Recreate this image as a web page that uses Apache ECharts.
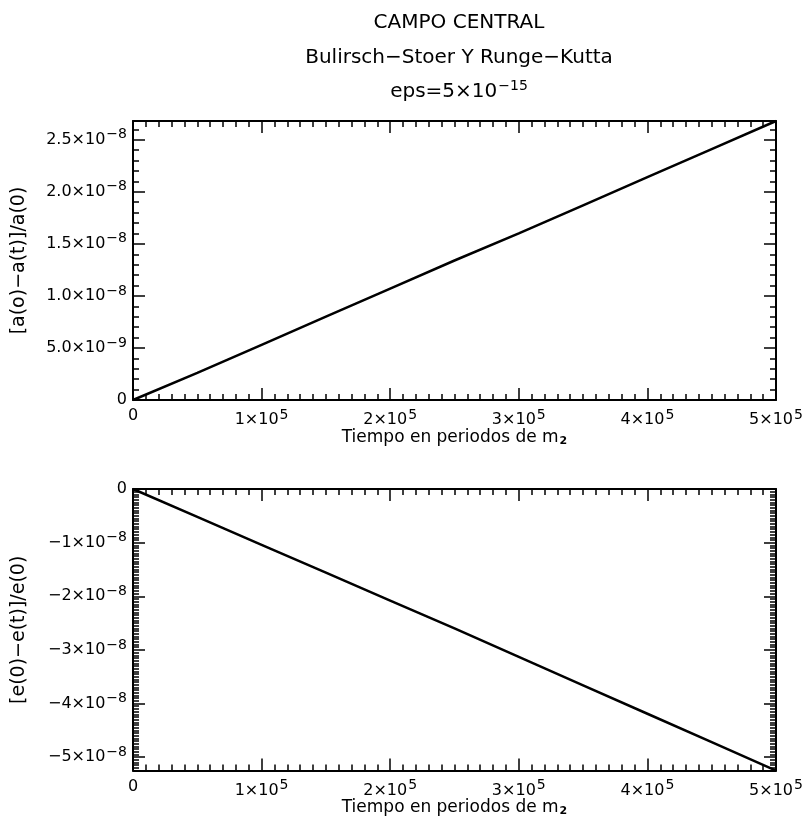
<!DOCTYPE html>
<html>
<head>
<meta charset="utf-8">
<script src="https://cdn.jsdelivr.net/npm/echarts@6/dist/echarts.min.js"></script>
<style>
  html, body { margin: 0; padding: 0; background: #fff; }
  #main { width: 806px; height: 818px; }
</style>
</head>
<body>
<div id="main"></div>
<script>
// time in periods of m2
var tiempo = [0, 50000, 100000, 150000, 200000, 250000, 300000, 350000, 400000, 450000, 500000];
// relative error in semi-major axis
var errA = [0, 2.6e-9, 5.3e-9, 8.0e-9, 1.07e-8, 1.34e-8, 1.60e-8, 1.87e-8, 2.14e-8, 2.41e-8, 2.68e-8];
// relative error in eccentricity
var errE = [0, -5.2e-9, -1.04e-8, -1.56e-8, -2.08e-8, -2.60e-8, -3.13e-8, -3.66e-8, -4.19e-8, -4.72e-8, -5.25e-8];

var xTicks = { 0: '0', 100000: '1', 200000: '2', 300000: '3', 400000: '4', 500000: '5' };
var aTicks = ['0', '5.0|9', '1.0|8', '1.5|8', '2.0|8', '2.5|8'];
var eTicks = ['0', '−1|8', '−2|8', '−3|8', '−4|8', '−5|8'];
var eMajor = [0, -1e-8, -2e-8, -3e-8, -4e-8, -5e-8];

var myChart = echarts.init(document.getElementById('main'));

var font = 'DejaVu Sans';
var rich = {
    b: { fontFamily: font, fontSize: 16, color: '#000' },
    s: { fontFamily: font, fontSize: 14, color: '#000', verticalAlign: 'bottom', padding: [0, 0, 10, 1] }
};
var nameRich = {
    b: { fontFamily: font, fontSize: 17, color: '#000' },
    sub: { fontFamily: font, fontSize: 11, fontWeight: 'bold', color: '#000', padding: [7, 0, 0, 1] }
};

function sciLabel(str) {
    if (str.indexOf('|') < 0) return '{b|' + str + '}';
    var p = str.split('|');
    return '{b|' + p[0] + '×10}{s|−' + p[1] + '}';
}

function xLabel(v) {
    var m = xTicks[v];
    if (m === '0') return '{b|0}';
    return '{b|' + m + '×10}{s|5}';
}

var blackLine = { color: '#000', width: 1.5 };

function makeX(grid, pos, labels) {
    return {
        type: 'value', gridIndex: grid, position: pos,
        min: 0, max: 500000, interval: 100000,
        name: labels ? '{b|Tiempo en periodos de m}{sub|2}' : '',
        nameLocation: 'middle', nameGap: 26,
        nameTextStyle: { rich: nameRich },
        axisLine: { show: true, onZero: false, lineStyle: { color: '#000', width: 2 } },
        axisTick: { show: true, inside: true, length: 12, lineStyle: blackLine },
        minorTick: { show: true, splitNumber: 10, length: 6, lineStyle: blackLine },
        axisLabel: { show: labels, formatter: xLabel, margin: 8, rich: rich },
        splitLine: { show: false }
    };
}

// top panel y axis: min is 0 so interval ticks fall on the labels
function makeYA(pos, labels, name) {
    return {
        type: 'value', gridIndex: 0, position: pos,
        min: 0, max: 2.68e-8, interval: 5e-9,
        name: name, nameLocation: 'middle', nameGap: 104,
        nameTextStyle: { fontFamily: font, fontSize: 19, color: '#000' },
        axisLine: { show: true, onZero: false, lineStyle: { color: '#000', width: 2 } },
        axisTick: { show: true, inside: true, length: 12, lineStyle: blackLine },
        minorTick: { show: true, splitNumber: 5, length: 6, lineStyle: blackLine },
        axisLabel: {
            show: !!labels, margin: 6, rich: rich, showMaxLabel: false,
            formatter: function (v) {
                var t = labels[Math.round(v / 5e-9)];
                return t !== undefined ? sciLabel(t) : '';
            }
        },
        splitLine: { show: false }
    };
}

// bottom panel: fine ticks every 5e-10, long ticks + labels at 1e-8
function makeYEMinor(pos) {
    return {
        type: 'value', gridIndex: 1, position: pos,
        min: -5.25e-8, max: 0, interval: 5e-10,
        axisLine: { show: true, onZero: false, lineStyle: { color: '#000', width: 2 } },
        axisTick: { show: true, inside: true, length: 6, lineStyle: blackLine },
        axisLabel: { show: false },
        splitLine: { show: false }
    };
}
function makeYEMajor(pos, labels, name) {
    return {
        type: 'value', gridIndex: 1, position: pos,
        min: -5.25e-8, max: 0, interval: 5e-10,
        name: name, nameLocation: 'middle', nameGap: 104,
        nameTextStyle: { fontFamily: font, fontSize: 19, color: '#000' },
        axisLine: { show: false, onZero: false },
        axisTick: { show: true, inside: true, length: 12, customValues: eMajor, lineStyle: blackLine },
        axisLabel: {
            show: !!labels, margin: 6, rich: rich, customValues: eMajor,
            formatter: function (v) {
                var t = labels[Math.round(Math.abs(v) / 1e-8)];
                return t !== undefined ? sciLabel(t) : '';
            }
        },
        splitLine: { show: false }
    };
}

var titleStyle = { fontFamily: font, fontSize: 20, fontWeight: 'normal', color: '#000' };

option = {
    backgroundColor: '#fff',
    animation: false,
    title: [
        { text: 'CAMPO CENTRAL', left: 454, top: 8, textAlign: 'center', textStyle: titleStyle },
        { text: 'Bulirsch−Stoer Y Runge−Kutta', left: 454, top: 43, textAlign: 'center', textStyle: titleStyle },
        { text: '{b|eps=5×10}{s|−15}', left: 454, top: 74, textAlign: 'center',
          textStyle: { fontWeight: 'normal', rich: {
              b: { fontFamily: font, fontSize: 20, fontWeight: 'normal', color: '#000' },
              s: { fontFamily: font, fontSize: 14, fontWeight: 'normal', color: '#000', verticalAlign: 'bottom', padding: [0, 0, 12, 1] }
          } } }
    ],
    grid: [
        { left: 133, right: 30, top: 121, height: 279 },
        { left: 133, right: 30, top: 489, height: 282 }
    ],
    xAxis: [
        makeX(0, 'bottom', true),
        makeX(0, 'top', false),
        makeX(1, 'bottom', true),
        makeX(1, 'top', false)
    ],
    yAxis: [
        makeYA('left', aTicks, '[a(o)−a(t)]/a(0)'),
        makeYA('right', null, ''),
        makeYEMinor('left'),
        makeYEMinor('right'),
        makeYEMajor('left', eTicks, '[e(0)−e(t)]/e(0)'),
        makeYEMajor('right', null, '')
    ],
    series: [
        {
            name: 'a', type: 'line', xAxisIndex: 0, yAxisIndex: 0,
            data: tiempo.map(function (t, i) { return [t, errA[i]]; }),
            showSymbol: false, lineStyle: { color: '#000', width: 2.5 }
        },
        {
            name: 'e', type: 'line', xAxisIndex: 2, yAxisIndex: 2,
            data: tiempo.map(function (t, i) { return [t, errE[i]]; }),
            showSymbol: false, lineStyle: { color: '#000', width: 2.5 }
        }
    ]
};

myChart.setOption(option);
</script>
</body>
</html>
